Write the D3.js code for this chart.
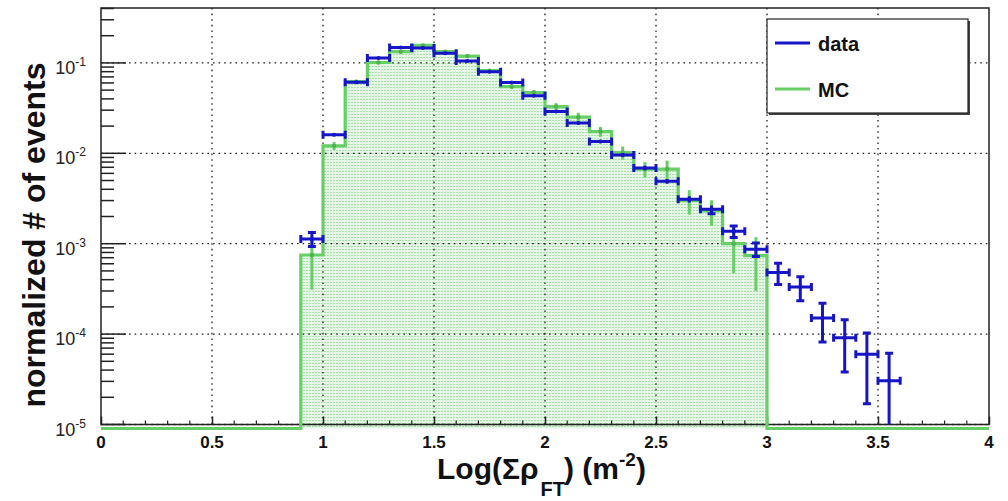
<!DOCTYPE html>
<html>
<head>
<meta charset="utf-8">
<script src="https://cdn.jsdelivr.net/npm/d3@7"></script>
<style>
  body { margin: 0; background: #fff; }
  svg { display: block; font-family: "Liberation Sans", Arial, Helvetica, sans-serif; }
</style>
</head>
<body>
<svg id="chart" width="1008" height="501"></svg>
<script>
// Histogram bins (lower edges), width 0.1 in Log(Σρ_FT)
const binWidth = 0.1;
const dataBinLow = [0.9, 1.0, 1.1, 1.2, 1.3, 1.4, 1.5, 1.6, 1.7, 1.8, 1.9, 2.0, 2.1, 2.2,
                    2.3, 2.4, 2.5, 2.6, 2.7, 2.8, 2.9, 3.0, 3.1, 3.2, 3.3, 3.4, 3.5];
const dataValues = [1.13e-3, 0.0160, 0.0610, 0.113, 0.148, 0.146, 0.128, 0.105, 0.080, 0.0606,
                    0.0432, 0.0290, 0.0216, 0.0135, 0.0096, 0.0069, 0.0049, 0.0031, 0.0024,
                    1.37e-3, 8.7e-4, 4.8e-4, 3.32e-4, 1.51e-4, 9.1e-5, 6.0e-5, 3.05e-5];
const dataErrors = [2.0e-4, 6e-4, 1.5e-3, 2.0e-3, 2.5e-3, 2.5e-3, 2.3e-3, 2.0e-3, 1.8e-3, 1.5e-3,
                    1.3e-3, 1.0e-3, 8e-4, 6e-4, 5e-4, 4e-4, 3e-4, 2.5e-4, 2.5e-4,
                    2.0e-4, 1.5e-4, 1.26e-4, 0.98e-4, 0.69e-4, 0.53e-4, 0.43e-4, 0.31e-4];

const mcBinLow = [0.9, 1.0, 1.1, 1.2, 1.3, 1.4, 1.5, 1.6, 1.7, 1.8, 1.9, 2.0, 2.1, 2.2,
                  2.3, 2.4, 2.5, 2.6, 2.7, 2.8, 2.9];
const mcValues = [7.5e-4, 0.0121, 0.062, 0.101, 0.133, 0.156, 0.133, 0.119, 0.082, 0.0547,
                  0.047, 0.0329, 0.0251, 0.0174, 0.0102, 0.0067, 0.0067, 0.0030, 0.0023,
                  1.0e-3, 7.4e-4];
const mcErrors = [4.4e-4, 1.2e-3, 3e-3, 4e-3, 4.5e-3, 5e-3, 4.5e-3, 4e-3, 3.5e-3, 3e-3,
                  3e-3, 3e-3, 3e-3, 2.2e-3, 1.7e-3, 1.3e-3, 1.6e-3, 0.9e-3, 0.72e-3,
                  0.53e-3, 0.44e-3];

const xTickValues = [0, 0.5, 1, 1.5, 2, 2.5, 3, 3.5, 4];
const xTickLabels = ["0", "0.5", "1", "1.5", "2", "2.5", "3", "3.5", "4"];
const yDecades = [1e-5, 1e-4, 1e-3, 1e-2, 1e-1];
const yDecadeExponents = ["-5", "-4", "-3", "-2", "-1"];
const legendLabels = ["data", "MC"];

const xDomain = [0, 4];
const yDomain = [1e-5, 0.405];

const blue = "#1616c6";
const green = "#66d066";

const svg = d3.select("#chart");
const frameL = 101, frameR = 989, frameT = 8, frameB = 424.5;

const x = d3.scaleLinear().domain(xDomain).range([frameL, frameR]);
const y = d3.scaleLog().domain(yDomain).range([frameB, frameT]);

// dotted fill pattern for the MC histogram
const defs = svg.append("defs");
const pat = defs.append("pattern").attr("id", "dots")
  .attr("width", 3).attr("height", 3).attr("patternUnits", "userSpaceOnUse");
pat.append("rect").attr("width", 3).attr("height", 3).attr("fill", "#e6f6e6");
pat.append("rect").attr("width", 2).attr("height", 1).attr("fill", "#a9e0a9");
defs.append("clipPath").attr("id", "frameClip")
  .append("rect").attr("x", frameL).attr("y", frameT).attr("width", frameR - frameL).attr("height", frameB - frameT + 8);

// MC fill area
const mcBottom = frameB + 4;
const mcLast = mcBinLow[mcBinLow.length - 1] + binWidth;
const fillPts = [[x(mcBinLow[0]), mcBottom]];
mcBinLow.forEach((lo, i) => {
  fillPts.push([x(lo), y(mcValues[i])]);
  fillPts.push([x(lo + binWidth), y(mcValues[i])]);
});
fillPts.push([x(mcLast), mcBottom]);
svg.append("path").attr("d", d3.line()(fillPts) + "Z").attr("fill", "url(#dots)");

// grid
const grid = svg.append("g").attr("stroke", "#222").attr("stroke-width", 1.3)
  .attr("stroke-dasharray", "1.6,4");
xTickValues.filter(v => v > xDomain[0] && v < xDomain[1]).forEach(v => {
  grid.append("line").attr("x1", x(v)).attr("x2", x(v)).attr("y1", frameT).attr("y2", frameB);
});
yDecades.forEach(v => {
  grid.append("line").attr("x1", frameL).attr("x2", frameR).attr("y1", y(v)).attr("y2", y(v));
});

// frame
svg.append("rect").attr("x", frameL).attr("y", frameT).attr("width", frameR - frameL)
  .attr("height", frameB - frameT).attr("fill", "none").attr("stroke", "#222").attr("stroke-width", 1.5);

// y axis ticks (log, inside frame)
const yt = svg.append("g");
yDecades.forEach(d => {
  for (let k = 1; k <= 9; k++) {
    const v = d * k;
    if (v < yDomain[0] || v > yDomain[1]) continue;
    const len = k === 1 ? 25 : 13;
    yt.append("line").attr("x1", frameL).attr("x2", frameL + len)
      .attr("y1", y(v)).attr("y2", y(v)).attr("stroke", "#222").attr("stroke-width", 1.5);
  }
});
// y tick labels 10^n
yDecades.forEach((d, i) => {
  const t = svg.append("text").attr("x", 86).attr("y", y(d) + 11)
    .attr("text-anchor", "end").attr("fill", "#222").attr("font-size", 18);
  t.append("tspan").text("10");
  t.append("tspan").attr("dy", -8).attr("font-size", 12).text(yDecadeExponents[i]);
});

// x axis ticks
const xAxis = d3.axisTop(x).tickValues(xTickValues).tickSize(8).tickFormat("");
const xg = svg.append("g").attr("transform", `translate(0,${frameB})`).call(xAxis);
xg.select(".domain").remove();
xg.selectAll("line").attr("stroke", "#222").attr("stroke-width", 1.5);
const xMinor = d3.range(0, 41).map(i => i / 10).filter(v => Math.round(v * 10) % 5 !== 0);
xMinor.forEach(v => {
  svg.append("line").attr("x1", x(v)).attr("x2", x(v)).attr("y1", frameB).attr("y2", frameB - 4)
    .attr("stroke", "#222").attr("stroke-width", 1.2);
});
xTickValues.forEach((v, i) => {
  svg.append("text").attr("x", x(v)).attr("y", 448).attr("text-anchor", "middle")
    .attr("font-weight", "bold").attr("font-size", 17).attr("fill", "#111").text(xTickLabels[i]);
});

// MC outline (zero bins lie on the bottom edge)
const linePts = [[x(xDomain[0]), mcBottom], [x(mcBinLow[0]), mcBottom]];
mcBinLow.forEach((lo, i) => {
  linePts.push([x(lo), y(mcValues[i])]);
  linePts.push([x(lo + binWidth), y(mcValues[i])]);
});
linePts.push([x(mcLast), mcBottom], [x(xDomain[1]), mcBottom]);
svg.append("path").attr("d", d3.line()(linePts)).attr("fill", "none")
  .attr("stroke", green).attr("stroke-width", 3.2);

// MC error bars
const mcErr = svg.append("g").attr("stroke", green).attr("stroke-width", 3);
mcBinLow.forEach((lo, i) => {
  const cx = x(lo + binWidth / 2);
  const v = mcValues[i], e = mcErrors[i];
  mcErr.append("line").attr("x1", cx).attr("x2", cx)
    .attr("y1", y(v + e)).attr("y2", v - e > yDomain[0] ? y(v - e) : frameB);
});
svg.append("g").selectAll("circle").data(mcBinLow).join("circle")
  .attr("cx", d => x(d + binWidth / 2)).attr("cy", (d, i) => y(mcValues[i]))
  .attr("r", 2.2).attr("fill", "#4fb24f");

// data points with error bars
const dg = svg.append("g").attr("stroke", blue).attr("stroke-width", 3).attr("clip-path", "url(#frameClip)");
const cap = 4;
dataBinLow.forEach((lo, i) => {
  const v = dataValues[i], e = dataErrors[i];
  const x0 = x(lo), x1 = x(lo + binWidth), cx = x(lo + binWidth / 2), cy = y(v);
  dg.append("line").attr("x1", x0).attr("x2", x1).attr("y1", cy).attr("y2", cy);
  dg.append("line").attr("x1", x0).attr("x2", x0).attr("y1", cy - cap).attr("y2", cy + cap);
  dg.append("line").attr("x1", x1).attr("x2", x1).attr("y1", cy - cap).attr("y2", cy + cap);
  const yTop = y(v + e);
  const yBot = v - e > yDomain[0] ? y(v - e) : frameB;
  dg.append("line").attr("x1", cx).attr("x2", cx).attr("y1", yTop).attr("y2", yBot);
  if (yTop < cy - cap) dg.append("line").attr("x1", cx - cap).attr("x2", cx + cap).attr("y1", yTop).attr("y2", yTop);
  if (v - e > yDomain[0] && yBot > cy + cap) dg.append("line").attr("x1", cx - cap).attr("x2", cx + cap).attr("y1", yBot).attr("y2", yBot);
  dg.append("circle").attr("cx", cx).attr("cy", cy).attr("r", 2).attr("fill", blue).attr("stroke", "none");
});

// legend
const lg = svg.append("g");
lg.append("rect").attr("x", 769).attr("y", 21).attr("width", 201).attr("height", 94).attr("fill", "#444");
lg.append("rect").attr("x", 767).attr("y", 19).attr("width", 201).attr("height", 94)
  .attr("fill", "#fff").attr("stroke", "#222").attr("stroke-width", 1.2);
[[blue, 43, 51], [green, 89, 97]].forEach(([c, ly, ty], i) => {
  lg.append("line").attr("x1", 775).attr("x2", 810).attr("y1", ly).attr("y2", ly)
    .attr("stroke", c).attr("stroke-width", 3);
  lg.append("text").attr("x", 818).attr("y", ty).attr("font-weight", "bold")
    .attr("font-size", 20).attr("fill", "#111").text(legendLabels[i]);
});

// axis titles
const xt = svg.append("text").attr("x", 437).attr("y", 479).attr("font-weight", "bold")
  .attr("font-size", 30).attr("fill", "#111");
xt.append("tspan").text("Log(Σρ");
xt.append("tspan").attr("dy", 17).attr("dx", 2).attr("font-size", 20).text("FT");
xt.append("tspan").attr("dy", -17).attr("dx", -1).text(") (m");
xt.append("tspan").attr("dy", -13).attr("font-size", 19).text("-2");
xt.append("tspan").attr("dy", 13).text(")");

svg.append("text").attr("transform", "translate(45,235) rotate(-90)")
  .attr("text-anchor", "middle").attr("font-weight", "bold").attr("font-size", 32)
  .attr("fill", "#111").text("normalized # of events");
</script>
</body>
</html>
